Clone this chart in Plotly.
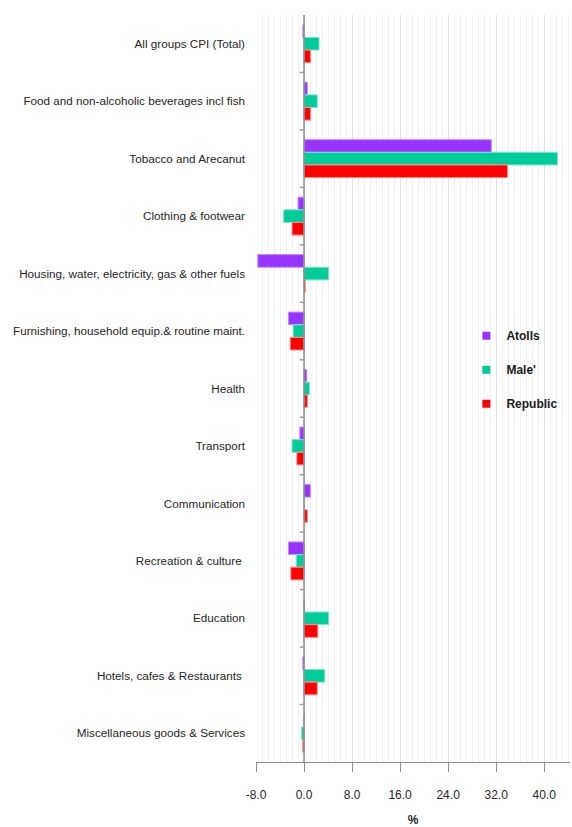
import plotly.graph_objects as go

# CPI categories (top to bottom) and annual change, %
categories = [
    "All groups CPI (Total)",
    "Food and non-alcoholic beverages incl fish",
    "Tobacco and Arecanut",
    "Clothing & footwear",
    "Housing, water, electricity, gas & other fuels",
    "Furnishing, household equip.& routine maint.",
    "Health",
    "Transport",
    "Communication",
    "Recreation & culture ",
    "Education",
    "Hotels, cafes & Restaurants ",
    "Miscellaneous goods & Services",
]
atolls = [-0.2, 0.55, 31.2, -1.0, -7.7, -2.6, 0.45, -0.7, 1.05, -2.6, 0.0, -0.2, 0.0]
male = [2.5, 2.2, 42.2, -3.4, 4.1, -1.8, 0.9, -2.0, 0.0, -1.3, 4.1, 3.45, -0.4]
republic = [1.1, 1.1, 33.9, -2.0, 0.2, -2.3, 0.55, -1.2, 0.55, -2.2, 2.3, 2.2, -0.2]

series = [
    ("Atolls", atolls, "#9933FF", "#c08cff"),
    ("Male'", male, "#00CC99", "#7fe3c9"),
    ("Republic", republic, "#FF0000", "#ff8c8c"),
]

x_ticks = [-8.0, 0.0, 8.0, 16.0, 24.0, 32.0, 40.0]
x_tick_text = ["-8.0", "0.0", "8.0", "16.0", "24.0", "32.0", "40.0"]

FONT = "Liberation Sans, Arial, sans-serif"

fig = go.Figure()
for name, vals, color, edge in series:
    fig.add_trace(go.Bar(
        y=categories, x=vals, name=name, orientation="h",
        marker=dict(color=color, line=dict(color=edge, width=1)),
        showlegend=False,
    ))

# Small square legend keys
for i, (name, vals, color, edge) in enumerate(series):
    fig.add_trace(go.Scatter(
        x=[None], y=[None], mode="markers", name=name,
        marker=dict(symbol="square", size=8, color=color),
        legendgroup=f"g{i}", showlegend=True,
    ))

# Vertical category axis drawn at x = 0 with ticks between categories
shapes = [dict(type="line", xref="x", yref="y", x0=0, x1=0,
               y0=-0.5, y1=len(categories) - 0.5,
               line=dict(color="#8c8c8c", width=1.5), layer="above")]
for k in range(len(categories) - 1):
    shapes.append(dict(type="line", xref="x", yref="y", x0=-0.7, x1=0,
                       y0=k + 0.5, y1=k + 0.5,
                       line=dict(color="#9a9a9a", width=1.5)))

fig.update_layout(
    width=572, height=827,
    margin=dict(l=256, r=2, t=15, b=65),
    plot_bgcolor="white", paper_bgcolor="white",
    barmode="group", bargap=0.34, bargroupgap=0,
    font=dict(family=FONT, size=12, color="#262626"),
    shapes=shapes,
    legend=dict(
        x=0.67, y=0.59, xanchor="left", yanchor="top",
        bgcolor="rgba(0,0,0,0)", traceorder="grouped", tracegroupgap=15,
        font=dict(family=FONT, size=12, color="#1a1a1a", weight="bold"),
        itemwidth=30,
    ),
    xaxis=dict(
        range=[-8, 44.3], tickvals=x_ticks, ticktext=x_tick_text,
        showgrid=True, gridcolor="#dce4ec", gridwidth=1,
        minor=dict(dtick=1, tick0=0, showgrid=True, gridcolor="#eff1f4", gridwidth=1),
        zeroline=False,
        showline=True, linecolor="#8c8c8c", linewidth=1,
        ticks="outside", ticklen=9, tickcolor="#8c8c8c",
        ticklabelstandoff=13,
        tickfont=dict(family=FONT, size=12, color="#262626"),
        title=dict(text="<b>%</b>", font=dict(family=FONT, size=12), standoff=14),
    ),
    yaxis=dict(
        type="category", categoryorder="array", categoryarray=categories,
        range=[len(categories) - 0.5, -0.5],
        showgrid=False, zeroline=False, showline=False, ticks="",
        ticklabelstandoff=10,
        tickfont=dict(family=FONT, size=11.7, color="#262626"),
    ),
)

fig.write_html("out.html")
